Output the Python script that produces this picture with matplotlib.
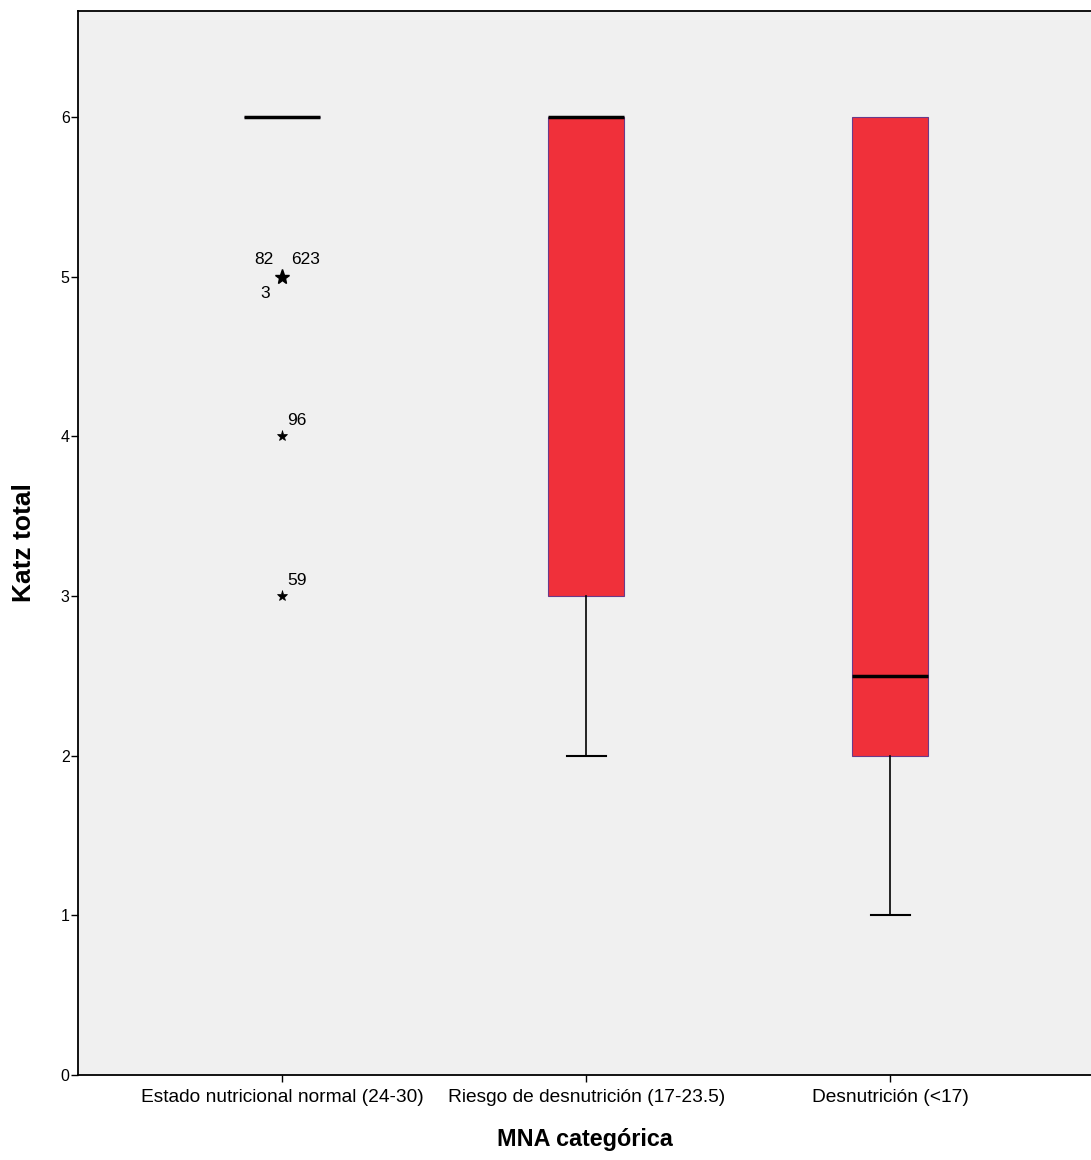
import matplotlib.pyplot as plt
import numpy as np

plt.rcParams['font.family'] = ['Liberation Sans', 'DejaVu Sans']

categories = ["Estado nutricional normal (24-30)", "Riesgo de desnutrición (17-23.5)", "Desnutrición (<17)"]
q1 = [6, 3, 2]
medians = [6, 6, 2.5]
q3 = [6, 6, 6]
whis_lo = [6, 2, 1]
whis_hi = [6, 6, 6]
outlier_vals = [[5, 5, 5, 4, 3], [], []]
outlier_ids = [["82", "623", "3", "96", "59"], [], []]

stats = []
for i in range(3):
    stats.append(dict(med=medians[i], q1=q1[i], q3=q3[i],
                      whislo=whis_lo[i], whishi=whis_hi[i], fliers=[]))

fig = plt.figure(figsize=(10.91, 11.6), dpi=100)
ax = fig.add_axes([78/1091, 1 - 1075/1160, 1 - 78/1091, (1075 - 11)/1160])
ax.set_facecolor('#f0f0f0')

pos = np.arange(3)
bp = ax.bxp(stats, positions=pos, widths=0.25, patch_artist=True, showfliers=False,
            boxprops=dict(facecolor='#f0303a', edgecolor='#6a3a8a', linewidth=0.8),
            medianprops=dict(color='black', linewidth=2.5),
            whiskerprops=dict(color='black', linewidth=1.2),
            capprops=dict(color='black', linewidth=1.5),
            capwidths=0.13)

# SPSS draws no cap where the whisker has zero length
for i in range(3):
    if whis_lo[i] == q1[i]:
        bp['caps'][2*i].set_visible(False)
    if whis_hi[i] == q3[i]:
        bp['caps'][2*i + 1].set_visible(False)

# extreme values of the first group
vals = outlier_vals[0]
ax.plot(np.zeros(len(vals)), vals, linestyle='none', marker='*', color='black',
        markersize=8, markeredgewidth=0.5)
ax.plot([0], [5], linestyle='none', marker='*', color='black', markersize=11)
ax.text(-0.03, 5.06, outlier_ids[0][0], ha='right', va='bottom', fontsize=12.5)
ax.text(0.03, 5.06, outlier_ids[0][1], ha='left', va='bottom', fontsize=12.5)
ax.text(-0.04, 4.94, outlier_ids[0][2], ha='right', va='top', fontsize=12.5)
ax.text(0.015, 4.05, outlier_ids[0][3], ha='left', va='bottom', fontsize=12.5)
ax.text(0.015, 3.05, outlier_ids[0][4], ha='left', va='bottom', fontsize=12.5)

ax.set_xlim(-0.672, 2.66)
ax.set_ylim(0, 6.665)
ax.set_yticks(range(7))
ax.set_xticks(pos)
ax.set_xticklabels(categories, fontsize=13.8)
ax.tick_params(axis='y', labelsize=11.5, length=5, width=1, pad=1)
ax.tick_params(axis='x', length=5, width=1, pad=5)
for side in ['left', 'bottom', 'top']:
    ax.spines[side].set_linewidth(1.3)
ax.spines['right'].set_visible(False)

ax.set_ylabel("Katz total", fontsize=19, fontweight='bold', labelpad=18)
ax.set_xlabel("MNA categórica", fontsize=16.8, fontweight='bold', labelpad=16)

fig.savefig("out.png", dpi=100)
